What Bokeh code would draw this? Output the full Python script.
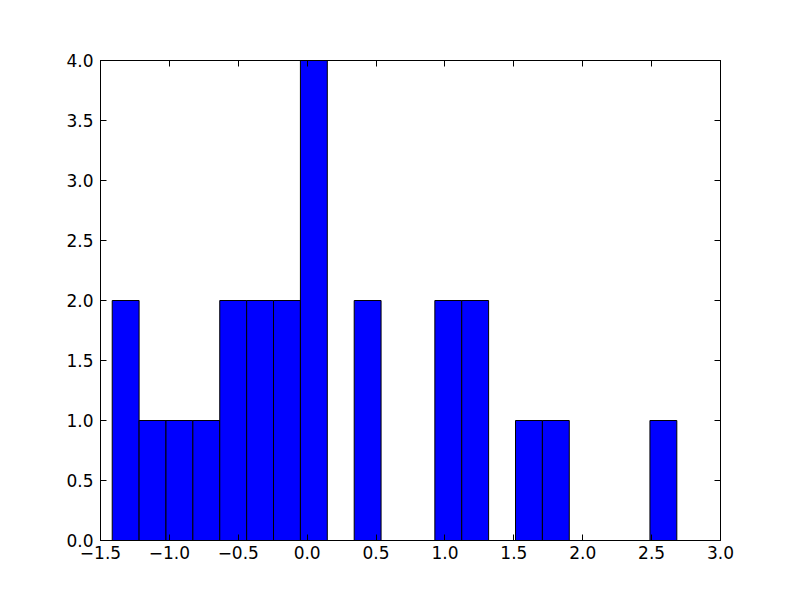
from bokeh.plotting import figure
from bokeh.models import Range1d, LinearAxis, FixedTicker, CustomJSTickFormatter, ColumnDataSource
from bokeh.embed import file_html
from bokeh.resources import INLINE

# histogram data
bin_start = -1.415
bin_end = 2.683
counts = [2, 1, 1, 1, 2, 2, 2, 4, 0, 2, 0, 0, 2, 2, 0, 1, 1, 0, 0, 0, 1]
x_ticks = [-1.5, -1.0, -0.5, 0.0, 0.5, 1.0, 1.5, 2.0, 2.5, 3.0]
y_ticks = [0.0, 0.5, 1.0, 1.5, 2.0, 2.5, 3.0, 3.5, 4.0]

n = len(counts)
w = (bin_end - bin_start) / n
lefts = [bin_start + i * w for i in range(n)]
rights = [bin_start + (i + 1) * w for i in range(n)]
src = ColumnDataSource(dict(left=lefts, right=rights, top=counts, bottom=[0] * n))

p = figure(frame_width=620, frame_height=480, output_backend="svg", toolbar_location=None,
           x_range=Range1d(-1.5, 3.0), y_range=Range1d(0, 4.0),
           x_axis_location=None, y_axis_location=None,
           min_border_left=100, min_border_top=60, min_border_right=64, min_border_bottom=44)
p.xgrid.visible = False
p.ygrid.visible = False
p.outline_line_color = "black"
p.outline_line_width = 1
p.background_fill_color = "white"
p.border_fill_color = "white"

p.quad(left="left", right="right", top="top", bottom="bottom", source=src,
       fill_color="#0000ff", line_color="black", line_width=1)

fmt = CustomJSTickFormatter(code="return tick.toFixed(1).replace('-', '\u2212');")

def mk(cls_ticks, show_labels, standoff):
    ax = LinearAxis(ticker=FixedTicker(ticks=cls_ticks))
    ax.formatter = fmt
    ax.major_tick_in = 6
    ax.major_tick_out = 0
    ax.minor_tick_line_color = None
    ax.axis_line_color = "black"
    ax.major_tick_line_color = "black"
    ax.major_label_text_font = "DejaVu Sans"
    ax.major_label_text_font_size = "17px"
    ax.major_label_text_color = "black"
    ax.major_label_standoff = standoff
    if not show_labels:
        ax.major_label_text_font_size = "0px"
        ax.major_label_text_color = None
    return ax

p.add_layout(mk(x_ticks, True, 5), "below")
p.add_layout(mk(y_ticks, True, 7), "left")
p.add_layout(mk(x_ticks, False, 0), "above")
p.add_layout(mk(y_ticks, False, 0), "right")

open("out.html", "w").write(file_html(p, INLINE))
